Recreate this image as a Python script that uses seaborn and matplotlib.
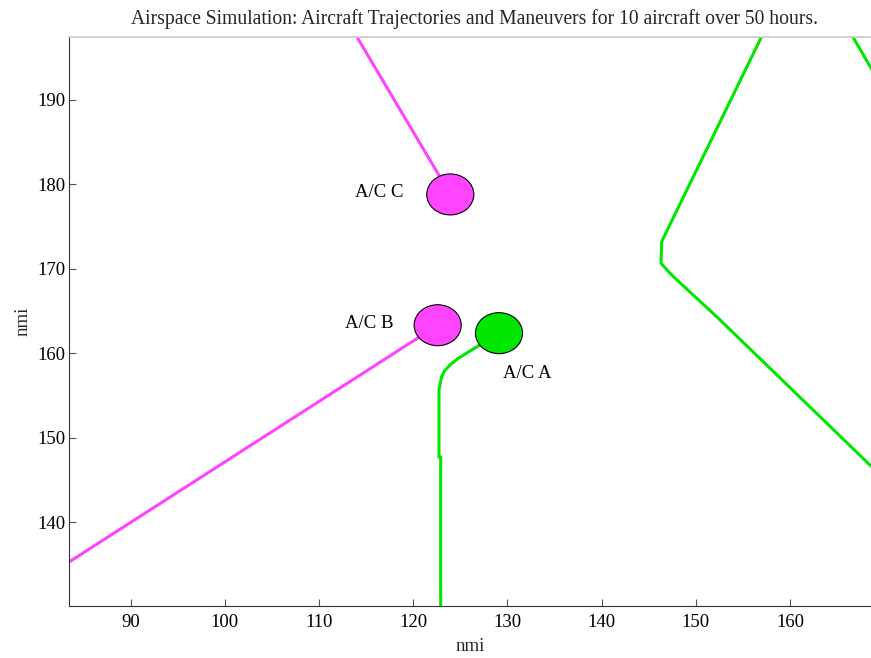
import matplotlib
matplotlib.use("Agg")
import matplotlib.pyplot as plt
from matplotlib.patches import Ellipse
import seaborn as sns
import pandas as pd

# ---- data (nmi) ----
# A/C B trajectory (magenta)
b_x = [83.0, 122.59]
b_y = [134.99, 163.34]
# A/C C trajectory (magenta)
c_x = [113.6, 114.02, 123.93]
c_y = [199.2, 197.46, 178.82]
# A/C A trajectory (green)
a_x = [122.91, 122.91, 122.73, 122.73, 123.01, 123.31, 123.90, 124.78, 129.10]
a_y = [128.0, 147.72, 147.72, 155.68, 157.25, 157.93, 158.64, 159.43, 162.40]
# other aircraft (green)
d_x = [157.64, 156.98, 146.37, 146.30, 147.43, 152.38, 168.48, 170.0]
d_y = [199.0, 197.49, 173.23, 170.67, 169.29, 164.17, 146.80, 145.16]
e_x = [166.1, 166.68, 168.6, 170.0]
e_y = [198.5, 197.46, 193.79, 191.1]

# aircraft positions and labels
ac_names = ["A/C A", "A/C B", "A/C C"]
ac_x = [129.1, 122.59, 123.93]
ac_y = [162.4, 163.34, 178.82]
ac_colors = ["#00e600", "#ff44ff", "#ff44ff"]
label_x = [132.1, 115.3, 116.4]
label_y = [157.6, 163.5, 179.0]

x_ticks = [90, 100, 110, 120, 130, 140, 150, 160]
y_ticks = [140, 150, 160, 170, 180, 190]

MAG = "#ff44ff"
GRN = "#00e600"

sns.set_theme(style="ticks")
plt.rcParams["font.family"] = ["Liberation Serif", "DejaVu Serif"]

fig = plt.figure(figsize=(8.71, 6.58), dpi=100)
ax = fig.add_axes([0.0796, 0.079, 0.9204, 0.8648])

paths = [(b_x, b_y, MAG), (c_x, c_y, MAG), (a_x, a_y, GRN), (d_x, d_y, GRN), (e_x, e_y, GRN)]
for px, py, col in paths:
    df = pd.DataFrame({"x": px, "y": py})
    sns.lineplot(data=df, x="x", y="y", sort=False, estimator=None, color=col,
                 linewidth=2.2, ax=ax, legend=False)

for name, x, y, col, lx, ly in zip(ac_names, ac_x, ac_y, ac_colors, label_x, label_y):
    ax.add_patch(Ellipse((x, y), 5.0, 4.85, facecolor=col, edgecolor="black",
                         linewidth=0.8, zorder=5))
    ax.text(lx, ly, name, ha="center", va="center", fontsize=13.5, color="black")

ax.set_xlim(83.48, 168.6)
ax.set_ylim(130.1, 197.46)
ax.set_xticks(x_ticks)
ax.set_yticks(y_ticks)
ax.tick_params(axis="both", direction="in", length=5, width=0.8, color="#555555",
               labelsize=13.5, labelcolor="black")
ax.tick_params(axis="x", pad=6)
ax.tick_params(axis="y", pad=3)
ax.spines["right"].set_visible(False)
ax.spines["top"].set_color("#cccccc")
ax.spines["left"].set_color("#333333")
ax.spines["bottom"].set_color("#333333")
ax.spines["left"].set_linewidth(0.8)
ax.spines["bottom"].set_linewidth(0.8)
ax.set_xlabel("nmi", fontsize=13.5, labelpad=5)
ax.set_ylabel("nmi", fontsize=13.5, labelpad=4)
ax.set_title("Airspace Simulation: Aircraft Trajectories and Maneuvers for 10 aircraft over 50 hours.",
             fontsize=14.1, pad=9, x=0.506)
ax.set_facecolor("white")
fig.patch.set_facecolor("white")

fig.savefig("out.png", dpi=100, facecolor="white")
